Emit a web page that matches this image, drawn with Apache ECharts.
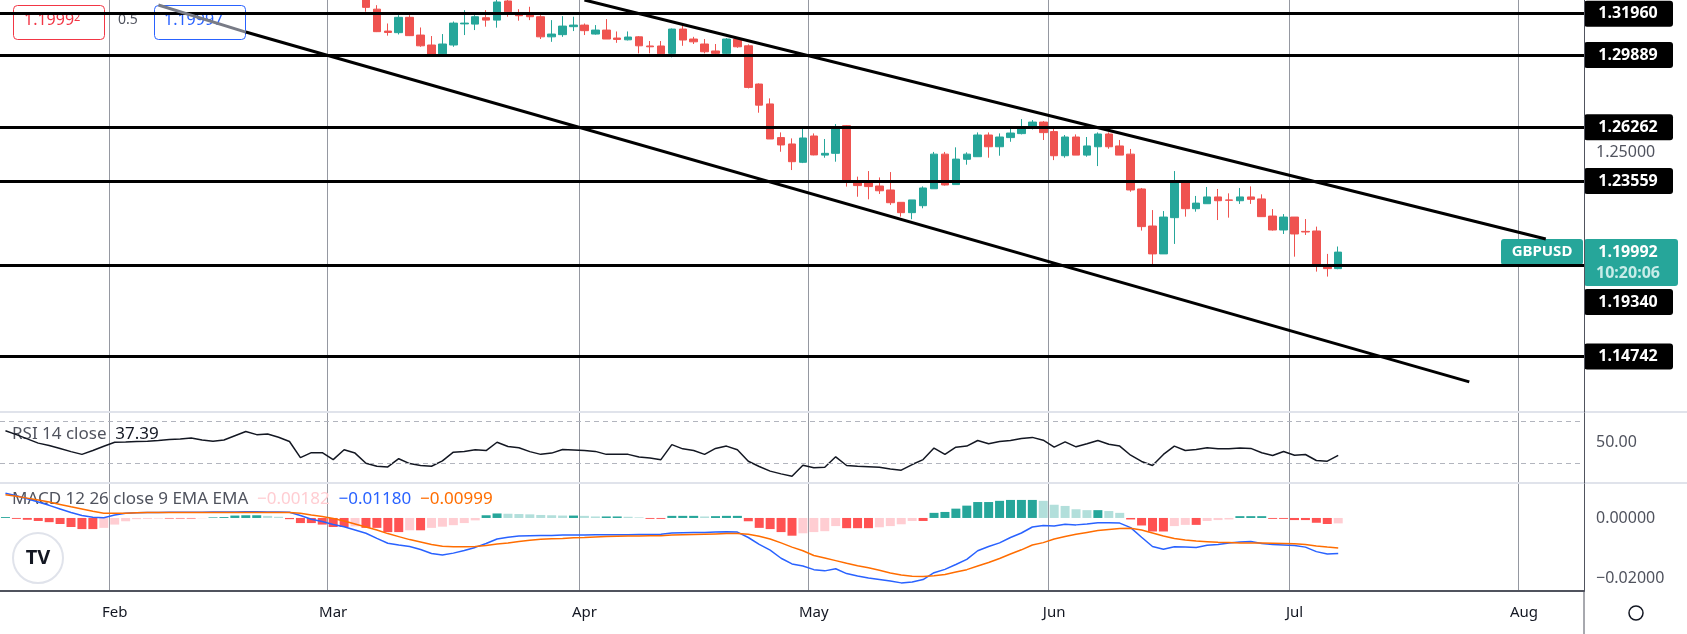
<!DOCTYPE html>
<html>
<head>
<meta charset="utf-8">
<script src="https://cdn.jsdelivr.net/npm/echarts@6/dist/echarts.min.js"></script>
<style>
  html, body { margin: 0; padding: 0; background: #fff; }
  #chart { width: 1687px; height: 634px; }
</style>
</head>
<body>
<div id="chart"></div>
<script>
// GBPUSD daily
var FIRST_DATE = '2022-01-18';
var BAR_COUNT = 145;
var FIRST_CANDLE = 33;   // candles before this sit above the visible range

// [open, close, low, high]
var candles = [
  [1.3280,1.3228,1.3206,1.3300],[1.3219,1.3106,1.3104,1.3239],[1.3109,1.3102,1.3086,1.3147],
  [1.3101,1.3178,1.3092,1.3189],[1.3178,1.3086,1.3084,1.3189],[1.3089,1.3035,1.3030,1.3127],
  [1.3039,1.2993,1.2985,1.3084],[1.2995,1.3044,1.2985,1.3094],[1.3039,1.3149,1.3030,1.3157],
  [1.3145,1.3149,1.3089,1.3214],[1.3144,1.3181,1.3114,1.3189],[1.3176,1.3164,1.3131,1.3214],
  [1.3164,1.3255,1.3126,1.3275],[1.3260,1.3206,1.3181,1.3290],[1.3193,1.3186,1.3161,1.3219],
  [1.3194,1.3181,1.3164,1.3231],[1.3181,1.3080,1.3069,1.3189],[1.3080,1.3094,1.3055,1.3164],
  [1.3091,1.3134,1.3080,1.3184],[1.3131,1.3139,1.3109,1.3181],[1.3139,1.3111,1.3089,1.3147],
  [1.3094,1.3114,1.3091,1.3139],[1.3114,1.3069,1.3069,1.3169],[1.3074,1.3067,1.3050,1.3107],
  [1.3065,1.3079,1.3062,1.3107],[1.3080,1.3035,1.2997,1.3084],[1.3034,1.3030,1.2997,1.3059],
  [1.3034,1.2995,1.2988,1.3059],[1.2997,1.3119,1.2977,1.3122],[1.3119,1.3064,1.3035,1.3147],
  [1.3069,1.3055,1.3044,1.3080],[1.3044,1.3005,1.2997,1.3069],[1.3009,1.2997,1.2988,1.3044],
  [1.2997,1.3069,1.2988,1.3074],[1.3069,1.3030,1.3025,1.3074],[1.3035,1.2826,1.2821,1.3042],
  [1.2843,1.2737,1.2699,1.2846],[1.2743,1.2567,1.2567,1.2771],[1.2574,1.2537,1.2503,1.2600],
  [1.2542,1.2453,1.2411,1.2570],[1.2450,1.2572,1.2446,1.2620],[1.2582,1.2487,1.2485,1.2595],
  [1.2486,1.2495,1.2473,1.2567],[1.2495,1.2620,1.2453,1.2642],[1.2634,1.2361,1.2328,1.2637],
  [1.2348,1.2333,1.2277,1.2378],[1.2348,1.2328,1.2264,1.2406],[1.2331,1.2307,1.2291,1.2374],
  [1.2311,1.2247,1.2236,1.2401],[1.2249,1.2197,1.2177,1.2249],[1.2197,1.2261,1.2164,1.2261],
  [1.2232,1.2321,1.2219,1.2329],[1.2317,1.2491,1.2317,1.2502],[1.2491,1.2336,1.2333,1.2502],
  [1.2338,1.2466,1.2338,1.2525],[1.2465,1.2491,1.2438,1.2500],[1.2478,1.2587,1.2478,1.2600],
  [1.2587,1.2528,1.2473,1.2600],[1.2528,1.2577,1.2483,1.2595],[1.2574,1.2597,1.2553,1.2620],
  [1.2594,1.2620,1.2590,1.2667],[1.2620,1.2652,1.2615,1.2662],[1.2652,1.2599,1.2562,1.2657],
  [1.2604,1.2483,1.2461,1.2617],[1.2483,1.2577,1.2473,1.2587],[1.2577,1.2486,1.2486,1.2590],
  [1.2486,1.2532,1.2478,1.2577],[1.2528,1.2592,1.2431,1.2600],[1.2592,1.2528,1.2518,1.2600],
  [1.2532,1.2486,1.2486,1.2562],[1.2491,1.2311,1.2302,1.2517],[1.2316,1.2127,1.2107,1.2321],
  [1.2130,1.1990,1.1939,1.2210],[1.1990,1.2175,1.1990,1.2205],[1.2172,1.2348,1.2040,1.2406],
  [1.2348,1.2217,1.2177,1.2348],[1.2217,1.2245,1.2202,1.2281],[1.2242,1.2276,1.2242,1.2326],
  [1.2276,1.2257,1.2160,1.2316],[1.2261,1.2259,1.2172,1.2294],[1.2257,1.2276,1.2241,1.2321],
  [1.2276,1.2264,1.2241,1.2329],[1.2266,1.2177,1.2177,1.2289],[1.2180,1.2110,1.2107,1.2215],
  [1.2110,1.2175,1.2090,1.2190],[1.2175,1.2090,1.1976,1.2175],[1.2103,1.2100,1.2085,1.2165],
  [1.2105,1.1936,1.1901,1.2127],[1.1926,1.1916,1.1876,1.1990],[1.1916,1.1999,1.1913,1.2027]
];

var levels = [1.31960, 1.29889, 1.26262, 1.23559, 1.19340, 1.14742];
var lastPrice = 1.19992;
// trend lines: [barIndex, price] pairs
var upperChannel = [[53, 1.3265], [140.6, 1.2065]];
var lowerChannel = [[22.3, 1.3104], [134.1, 1.1347]];
var lowerHandle = [[13.9, 1.3240], [22.3, 1.3104]];

var rsi = [60.7,57,53,49,46.8,44,41,38.4,42,46,49.8,50,50.5,50.8,51.5,52.5,53,53.9,52,50.8,
  52,56,60,57,57.6,54.5,50.5,35.3,40,40,33.4,42.7,39.6,30,27.2,26.6,34.3,29.7,28,27.2,
  32.2,40.5,41.2,42.7,42,49.8,45.8,44.6,41,38.4,39.6,43,42.5,42,41.2,38.4,38.4,38.4,36,35,
  33.4,47.6,43.6,42,38.4,44,46.2,42.7,31.9,27,22.6,20,17.8,28.2,25.7,26.3,36.1,27.9,27.2,26.8,
  26.3,24.7,23.5,28.8,33.5,44.3,38.3,45.2,46.2,51.5,48.4,50.6,51.5,53.4,54.4,51.8,45.2,50.2,45.5,48.4,
  51.5,48,46.2,37.6,31.7,27.9,38.3,46.2,42.1,43,44.6,43.6,43.6,44.3,44,39.9,37.3,41.1,37.6,38.3,
  32.6,32,37.39];

var macd = [.0082,.0074,.0064,.0053,.0042,.0030,.0018,.0008,.0002,.0001,.0010,.0016,.0017,.0018,.0018,.0019,.0019,.0019,.0019,.0020,
  .0020,.0020,.0021,.0021,.0020,.0020,.0019,.0008,-.0004,-.0012,-.0022,-.0029,-.0040,-.0051,-.0068,-.0084,-.0090,-.0095,-.0105,-.0118,
  -.0123,-.0117,-.0108,-.0098,-.0085,-.0070,-.0064,-.0060,-.0059,-.0058,-.0058,-.0057,-.0057,-.0057,-.0056,-.0056,-.0056,-.0056,-.0055,-.0055,
  -.0054,-.0050,-.0049,-.0048,-.0048,-.0047,-.0046,-.0047,-.0065,-.0088,-.0107,-.0134,-.0153,-.0160,-.0172,-.0176,-.0169,-.0185,-.0193,-.0200,
  -.0205,-.0210,-.0216,-.0213,-.0205,-.0182,-.0171,-.0155,-.0138,-.0109,-.0095,-.0083,-.0065,-.0050,-.0030,-.0025,-.0027,-.0021,-.0023,-.0020,
  -.0016,-.0016,-.0017,-.0032,-.0064,-.0095,-.0104,-.0096,-.0097,-.0098,-.0091,-.0088,-.0083,-.0080,-.0078,-.0085,-.0088,-.0090,-.0092,-.0097,
  -.0112,-.0120,-.0118];

var signal = [.0077,.0072,.0066,.0060,.0053,.0045,.0037,.0030,.0022,.0016,.0016,.0016,.0017,.0018,.0018,.0018,.0018,.0018,.0018,.0018,
  .0018,.0018,.0018,.0018,.0018,.0018,.0018,.0016,.0010,.0005,-.0002,-.0010,-.0020,-.0030,-.0040,-.0052,-.0062,-.0072,-.0080,-.0088,
  -.0094,-.0096,-.0096,-.0095,-.0092,-.0087,-.0083,-.0078,-.0074,-.0071,-.0069,-.0068,-.0066,-.0065,-.0063,-.0062,-.0061,-.0060,-.0060,-.0059,
  -.0059,-.0057,-.0056,-.0055,-.0054,-.0053,-.0052,-.0052,-.0054,-.0061,-.0070,-.0083,-.0097,-.0109,-.0125,-.0133,-.0142,-.0151,-.0159,-.0166,
  -.0174,-.0183,-.0190,-.0194,-.0195,-.0192,-.0188,-.0180,-.0172,-.0160,-.0148,-.0135,-.0120,-.0106,-.0090,-.0082,-.0070,-.0062,-.0054,-.0048,
  -.0042,-.0038,-.0035,-.0034,-.0040,-.0050,-.0060,-.0068,-.0073,-.0077,-.0079,-.0081,-.0082,-.0083,-.0083,-.0083,-.0084,-.0085,-.0086,-.0088,
  -.0093,-.0097,-.0100];

var hist = [.0003,-.0003,-.0006,-.0010,-.0014,-.0020,-.0030,-.0037,-.0037,-.0033,-.0022,-.0011,-.0004,-.0003,-.0002,-.0002,-.0002,-.0002,-.0001,.0002,
  .0003,.0008,.0009,.0009,.0007,.0004,-.0004,-.0017,-.0017,-.0022,-.0030,-.0030,-.0028,-.0033,-.0033,-.0047,-.0047,-.0041,-.0041,-.0033,
  -.0029,-.0024,-.0017,-.0008,.0009,.0015,.0014,.0013,.0012,.0010,.0009,.0008,.0008,.0007,.0005,.0005,.0005,.0004,.0002,-.0003,
  -.0003,.0007,.0007,.0007,.0005,.0006,.0007,.0007,-.0011,-.0033,-.0037,-.0047,-.0059,-.0051,-.0047,-.0044,-.0027,-.0034,-.0034,-.0034,
  -.0031,-.0027,-.0021,-.0010,-.0010,.0017,.0020,.0031,.0041,.0053,.0053,.0057,.0060,.0060,.0060,.0057,.0044,.0040,.0029,.0026,
  .0026,.0023,.0017,-.0005,-.0025,-.0045,-.0045,-.0027,-.0023,-.0023,-.0010,-.0007,-.0005,.0006,.0006,.0006,-.0003,-.0003,-.0007,-.0007,
  -.0016,-.0020,-.0018];

var MONTHS = ['Jan','Feb','Mar','Apr','May','Jun','Jul','Aug','Sep','Oct','Nov','Dec'];

// weekday categories
var dates = [];
var d = new Date(FIRST_DATE + 'T00:00:00Z');
while (dates.length < BAR_COUNT) {
  var wd = d.getUTCDay();
  if (wd !== 0 && wd !== 6) dates.push(d.toISOString().slice(0, 10));
  d.setUTCDate(d.getUTCDate() + 1);
}
function isMonthStart(i) {
  return i > 0 && dates[i].slice(5, 7) !== dates[i - 1].slice(5, 7);
}

var candleData = dates.map(function (x, i) {
  var k = i - FIRST_CANDLE;
  return (k >= 0 && k < candles.length) ? candles[k] : '-';
});

var GREEN = '#26a69a', RED = '#ef5350';
var histData = hist.map(function (v, i) {
  var prev = i > 0 ? hist[i - 1] : v;
  var c;
  if (v >= 0) c = v >= prev ? '#26a69a' : '#b2dfdb';
  else c = v <= prev ? '#ff5252' : '#ffcdd2';
  return { value: v, itemStyle: { color: c } };
});

var FONT = 'Noto Sans';
var chart = echarts.init(document.getElementById('chart'));

function xAx(grid, showLabel) {
  return {
    type: 'category', gridIndex: grid, data: dates, boundaryGap: true,
    axisLine: { show: showLabel, onZero: false, lineStyle: { color: '#50535e', width: 2 } },
    axisTick: { show: false },
    axisLabel: {
      show: showLabel, interval: function (i) { return isMonthStart(i); },
      formatter: function (v) { return MONTHS[+v.slice(5, 7) - 1]; },
      color: '#131722', fontSize: 15, fontFamily: FONT, margin: 14
    },
    splitLine: { show: true, interval: function (i) { return isMonthStart(i); },
      lineStyle: { color: '#9598a1', width: 1 } }
  };
}
function yAx(grid, min, max) {
  return {
    type: 'value', gridIndex: grid, position: 'right', min: min, max: max, scale: true,
    axisLine: { show: true, lineStyle: { color: '#50535e', width: 1 } },
    axisTick: { show: false }, axisLabel: { show: false }, splitLine: { show: false }
  };
}

var markLines = levels.map(function (v) { return { yAxis: v }; });
function seg(p, color) {
  return [{ coord: p[0], lineStyle: { color: color, width: 3 } }, { coord: p[1] }];
}
markLines.push(seg(upperChannel, '#000'));
markLines.push(seg(lowerChannel, '#000'));
markLines.push(seg(lowerHandle, '#787b86'));

var option = {
  animation: false,
  backgroundColor: '#fff',
  grid: [
    { left: 0, right: 103, top: 0, height: 412 },
    { left: 0, right: 103, top: 413, height: 70 },
    { left: 0, right: 103, top: 484, height: 107 }
  ],
  xAxis: [xAx(0, false), xAx(1, false), xAx(2, true)],
  yAxis: [yAx(0, 1.1196, 1.3265), yAx(1, 11.4, 77.4), yAx(2, -0.0243, 0.0113)],
  series: [
    {
      type: 'candlestick', xAxisIndex: 0, yAxisIndex: 0, data: candleData, barWidth: 8, clip: true,
      itemStyle: { color: GREEN, color0: RED, borderColor: GREEN, borderColor0: RED, borderWidth: 1 },
      markLine: { symbol: 'none', silent: true, precision: 5, label: { show: false },
        lineStyle: { color: '#000', width: 3, type: 'solid' }, data: markLines }
    },
    {
      type: 'line', xAxisIndex: 1, yAxisIndex: 1, data: rsi, showSymbol: false,
      lineStyle: { color: '#131722', width: 1.5 },
      markLine: { symbol: 'none', silent: true, label: { show: false },
        lineStyle: { color: '#b2b5be', width: 1, type: [5, 4] },
        data: [{ yAxis: 70 }, { yAxis: 30 }] }
    },
    { type: 'bar', xAxisIndex: 2, yAxisIndex: 2, data: histData, barWidth: 9 },
    { type: 'line', xAxisIndex: 2, yAxisIndex: 2, data: macd, showSymbol: false,
      lineStyle: { color: '#2962ff', width: 1.5 } },
    { type: 'line', xAxisIndex: 2, yAxisIndex: 2, data: signal, showSymbol: false,
      lineStyle: { color: '#ff6d00', width: 1.5 } }
  ]
};
chart.setOption(option);

// right-scale boxes and overlay texts, placed with the chart's own scales
function py(axis, v) { return chart.convertToPixel({ yAxisIndex: axis }, v); }
var AX = 1584;
var g = [];
levels.forEach(function (v) {
  var y = py(0, v);
  if (v === 1.19340) y += 37;   // pushed down by the last-price box
  g.push({ type: 'rect', left: AX, top: y - 13, shape: { width: 89, height: 26, r: 3 }, style: { fill: '#000' } });
  g.push({ type: 'text', x: AX + 44, y: y, style: { text: v.toFixed(5), fill: '#fff', font: 'bold 16px ' + FONT,
    align: 'center', verticalAlign: 'middle' } });
});
function axText(axis, v, txt) {
  g.push({ type: 'text', x: AX + 12, y: py(axis, v), style: { text: txt, fill: '#50535e', font: '16px ' + FONT,
    verticalAlign: 'middle' } });
}
axText(0, 1.25, '1.25000');
axText(1, 50, '50.00');
axText(2, 0, '0.00000');
axText(2, -0.02, '−0.02000');

var yNow = py(0, lastPrice);
g.push(
  { type: 'rect', left: AX, top: yNow - 13, shape: { width: 94, height: 47, r: 3 }, style: { fill: GREEN } },
  { type: 'text', x: AX + 44, y: yNow, style: { text: lastPrice.toFixed(5), fill: '#fff', font: 'bold 16px ' + FONT, align: 'center', verticalAlign: 'middle' } },
  { type: 'text', x: AX + 44, y: yNow + 21, style: { text: '10:20:06', fill: '#c8ece8', font: 'bold 16px ' + FONT, align: 'center', verticalAlign: 'middle' } },
  { type: 'rect', left: 1501, top: yNow - 13, shape: { width: 82, height: 26, r: 3 }, style: { fill: GREEN } },
  { type: 'text', x: 1542, y: yNow, style: { text: 'GBPUSD', fill: '#fff', font: 'bold 15px ' + FONT, align: 'center', verticalAlign: 'middle' } },
  { type: 'rect', left: 13, top: 5, shape: { width: 91, height: 34, r: 4 }, style: { fill: '#fff', stroke: '#f23645', lineWidth: 1 } },
  { type: 'text', left: 24, top: 12, style: { text: '{a|1.1999}{b|2}', rich: { a: { fill: '#f23645', font: '16px ' + FONT },
    b: { fill: '#f23645', font: '11px ' + FONT, padding: [0, 0, 6, 0] } } } },
  { type: 'text', left: 118, top: 13, style: { text: '0.5', fill: '#50535e', font: '14px ' + FONT } },
  { type: 'rect', left: 154, top: 5, shape: { width: 91, height: 34, r: 4 }, style: { fill: '#fff', stroke: '#2962ff', lineWidth: 1 } },
  { type: 'text', left: 164, top: 12, style: { text: '1.19997', fill: '#2962ff', font: '16px ' + FONT } },
  { type: 'text', left: 12, top: 426, style: { text: 'RSI 14 close  {b|37.39}', fill: '#50535e', font: '17px ' + FONT,
    rich: { b: { fill: '#131722', font: '17px ' + FONT } } } },
  { type: 'text', left: 12, top: 491, style: {
    text: 'MACD 12 26 close 9 EMA EMA  {p|−0.00182}  {b|−0.01180}  {o|−0.00999}', fill: '#50535e', font: '17px ' + FONT,
    rich: { p: { fill: '#ffcdd2', font: '17px ' + FONT }, b: { fill: '#2962ff', font: '17px ' + FONT },
      o: { fill: '#ff6d00', font: '17px ' + FONT } } } },
  { type: 'circle', shape: { cx: 38, cy: 558, r: 25 }, style: { fill: '#fff', stroke: '#e0e3eb', lineWidth: 2 } },
  { type: 'text', x: 38, y: 558, style: { text: 'TV', fill: '#131722', font: 'bold 20px ' + FONT, align: 'center', verticalAlign: 'middle' } },
  { type: 'line', shape: { x1: 0, y1: 412, x2: 1687, y2: 412 }, style: { stroke: '#e0e3eb', lineWidth: 2 } },
  { type: 'line', shape: { x1: 0, y1: 483, x2: 1687, y2: 483 }, style: { stroke: '#e0e3eb', lineWidth: 2 } },
  { type: 'line', shape: { x1: AX, y1: 591, x2: AX, y2: 634 }, style: { stroke: '#50535e', lineWidth: 1 } },
  { type: 'circle', shape: { cx: 1636, cy: 613, r: 7 }, style: { fill: 'none', stroke: '#131722', lineWidth: 1.5 } }
);
chart.setOption({ graphic: g });
</script>
</body>
</html>
